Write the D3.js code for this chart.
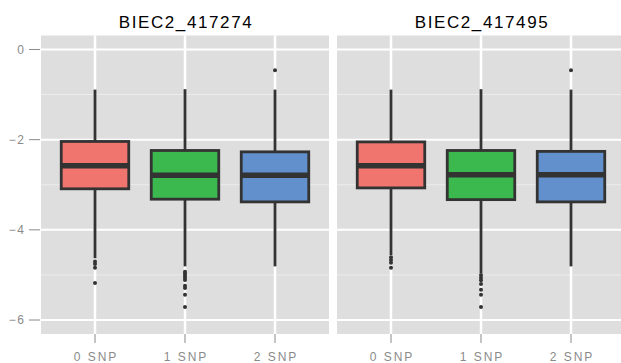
<!DOCTYPE html>
<html>
<head>
<meta charset="utf-8">
<script src="https://cdn.jsdelivr.net/npm/d3@7"></script>
<style>
  body { margin: 0; background: #fff; }
  text { font-family: "Liberation Sans", Arial, sans-serif; }
</style>
</head>
<body>
<div id="chart"></div>
<script>
// facets and groups
var panels = ["BIEC2_417274", "BIEC2_417495"];
var categories = ["0 SNP", "1 SNP", "2 SNP"];
var fills = ["#F0756F", "#3BB84E", "#6190CC"];

// box stats, one row per panel, one value per category
var q3 = [[-2.04, -2.24, -2.27], [-2.05, -2.24, -2.26]];
var medians = [[-2.58, -2.79, -2.79], [-2.58, -2.78, -2.78]];
var q1 = [[-3.09, -3.32, -3.38], [-3.07, -3.33, -3.38]];
var whiskerHigh = [[-0.89, -0.88, -0.89], [-0.89, -0.88, -0.89]];
var whiskerLow = [[-4.63, -4.81, -4.81], [-4.56, -4.96, -4.81]];
var outliers = [
  [[-4.70, -4.76, -4.84, -5.18],
   [-4.93, -4.97, -5.02, -5.06, -5.11, -5.24, -5.29, -5.44, -5.71],
   [-0.46]],
  [[-4.61, -4.67, -4.73, -4.84],
   [-5.00, -5.06, -5.12, -5.20, -5.33, -5.44, -5.71],
   [-0.46]]
];
var yTicks = [0, -2, -4, -6];
var yMinor = [-1, -3, -5];

var w = 621, h = 363;
var panelW = 288;
var panelX = [41, 337];
var panelTop = 35.5, panelBottom = 334;

var svg = d3.select("#chart").append("svg")
  .attr("width", w).attr("height", h);

var y = d3.scaleLinear().domain([-6.31, 0.31]).range([panelBottom, panelTop]);

// y axis labels (left only)
var yAxis = svg.append("g");
yAxis.selectAll("line").data(yTicks).enter().append("line")
  .attr("x1", 29).attr("x2", 40)
  .attr("y1", function(d) { return y(d); })
  .attr("y2", function(d) { return y(d); })
  .attr("stroke", "#8a8a8a").attr("stroke-width", 1);
yAxis.selectAll("text").data(yTicks).enter().append("text")
  .attr("x", 25.5)
  .attr("y", function(d) { return y(d); })
  .attr("dy", "0.36em")
  .attr("text-anchor", "end")
  .attr("font-size", 12)
  .attr("letter-spacing", 1.5)
  .attr("fill", "#8a8a8a")
  .text(function(d) { return d === 0 ? "0" : "\u2212" + Math.abs(d); });

panels.forEach(function(name, p) {
  var x = d3.scalePoint().domain(categories)
    .range([panelX[p], panelX[p] + panelW]).padding(0.6);
  var bw = x.step() * 0.75;
  var g = svg.append("g");

  g.append("rect")
    .attr("x", panelX[p]).attr("y", panelTop)
    .attr("width", panelW).attr("height", panelBottom - panelTop)
    .attr("fill", "#dedede");

  g.selectAll("line.minor").data(yMinor).enter().append("line")
    .attr("class", "minor")
    .attr("x1", panelX[p]).attr("x2", panelX[p] + panelW)
    .attr("y1", function(d) { return y(d); })
    .attr("y2", function(d) { return y(d); })
    .attr("stroke", "#f0f0f0").attr("stroke-width", 0.8);

  g.selectAll("line.major").data(yTicks).enter().append("line")
    .attr("class", "major")
    .attr("x1", panelX[p]).attr("x2", panelX[p] + panelW)
    .attr("y1", function(d) { return y(d); })
    .attr("y2", function(d) { return y(d); })
    .attr("stroke", "#fff").attr("stroke-width", 2);

  g.selectAll("line.vmajor").data(categories).enter().append("line")
    .attr("class", "vmajor")
    .attr("x1", function(d) { return x(d); })
    .attr("x2", function(d) { return x(d); })
    .attr("y1", panelTop).attr("y2", panelBottom)
    .attr("stroke", "#fff").attr("stroke-width", 2.5);

  // title
  g.append("text")
    .attr("x", panelX[p] + panelW / 2 + 1).attr("y", 28)
    .attr("text-anchor", "middle")
    .attr("font-size", 17)
    .attr("letter-spacing", 1.6)
    .attr("fill", "#000")
    .text(name);

  // x ticks and labels
  g.selectAll("line.xt").data(categories).enter().append("line")
    .attr("class", "xt")
    .attr("x1", function(d) { return x(d); })
    .attr("x2", function(d) { return x(d); })
    .attr("y1", panelBottom).attr("y2", panelBottom + 9)
    .attr("stroke", "#8a8a8a").attr("stroke-width", 1);
  g.selectAll("text.xl").data(categories).enter().append("text")
    .attr("class", "xl")
    .attr("x", function(d) { return x(d) + 1; })
    .attr("y", 360.5)
    .attr("text-anchor", "middle")
    .attr("font-size", 12)
    .attr("letter-spacing", 2)
    .attr("fill", "#8a8a8a")
    .text(function(d) { return d; });

  var rows = categories.map(function(c, i) {
    return { cat: c, i: i, q1: q1[p][i], q3: q3[p][i], med: medians[p][i],
             lo: whiskerLow[p][i], hi: whiskerHigh[p][i], out: outliers[p][i] };
  });

  var box = g.selectAll("g.box").data(rows).enter().append("g");

  box.append("line")
    .attr("x1", function(d) { return x(d.cat); })
    .attr("x2", function(d) { return x(d.cat); })
    .attr("y1", function(d) { return y(d.hi); })
    .attr("y2", function(d) { return y(d.lo); })
    .attr("stroke", "#333").attr("stroke-width", 2.8);

  box.append("rect")
    .attr("x", function(d) { return x(d.cat) - bw / 2; })
    .attr("y", function(d) { return y(d.q3); })
    .attr("width", bw)
    .attr("height", function(d) { return y(d.q1) - y(d.q3); })
    .attr("fill", function(d) { return fills[d.i]; })
    .attr("stroke", "#333").attr("stroke-width", 2.8);

  box.append("line")
    .attr("x1", function(d) { return x(d.cat) - bw / 2; })
    .attr("x2", function(d) { return x(d.cat) + bw / 2; })
    .attr("y1", function(d) { return y(d.med); })
    .attr("y2", function(d) { return y(d.med); })
    .attr("stroke", "#333").attr("stroke-width", 5.5);

  box.selectAll("circle").data(function(d) {
      return d.out.map(function(v) { return { cat: d.cat, v: v }; });
    }).enter().append("circle")
    .attr("cx", function(d) { return x(d.cat); })
    .attr("cy", function(d) { return y(d.v); })
    .attr("r", 2)
    .attr("fill", "#333");
});
</script>
</body>
</html>
